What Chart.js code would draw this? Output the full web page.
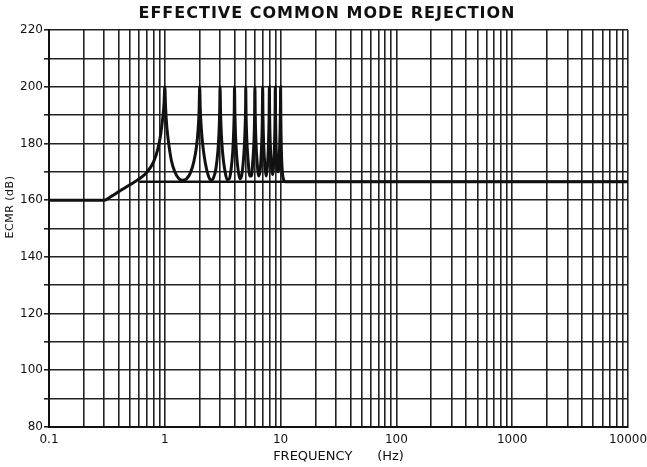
<!DOCTYPE html>
<html lang="en">
<head>
<meta charset="UTF-8">
<title>Effective Common Mode Rejection</title>
<script src="https://cdn.jsdelivr.net/npm/chart.js@4.4.1/dist/chart.umd.min.js"></script>
<style>
    body { margin: 0; background: #fff; }
</style>
</head>
<body>
<canvas id="ecmrChart" width="647" height="467"></canvas>
<script>
// response curve
var freqHz = [
    0.1, 0.2, 0.3, 0.35, 0.4, 0.5, 0.6, 0.7, 0.8, 0.87, 0.92, 0.96, 0.985,
    1.0, 1.015, 1.04, 1.08, 1.14, 1.22, 1.32, 1.42, 1.54, 1.66, 1.78, 1.88, 1.94, 1.98,
    2.0, 2.025, 2.07, 2.14, 2.24, 2.36, 2.5, 2.63, 2.76, 2.87, 2.94, 2.98,
    3.0, 3.03, 3.08, 3.17, 3.3, 3.45, 3.6, 3.74, 3.86, 3.94, 3.98,
    4.0, 4.03, 4.08, 4.17, 4.3, 4.45, 4.6, 4.75, 4.88, 4.95, 4.99,
    5.0, 5.03, 5.1, 5.22, 5.42, 5.6, 5.76, 5.89, 5.96,
    6.0, 6.04, 6.12, 6.28, 6.48, 6.68, 6.85, 6.95,
    7.0, 7.04, 7.14, 7.32, 7.5, 7.7, 7.86, 7.96,
    8.0, 8.04, 8.16, 8.36, 8.52, 8.72, 8.88, 8.96,
    9.0, 9.04, 9.16, 9.38, 9.56, 9.76, 9.9, 9.97,
    10.0, 10.04, 10.15, 10.35, 10.6, 11, 20, 100, 1000, 10000
];
var ecmrDb = [
    160, 160, 160, 161.5, 163, 165.4, 167.5, 169.8, 173.5, 178, 183, 189, 194,
    200, 193, 186, 180, 174, 170, 167.6, 167, 167.5, 169.5, 173.5, 179, 185, 192,
    200, 192, 185, 178.5, 173, 169, 167, 167.8, 171, 177, 184, 192,
    200, 191, 183, 176, 170.5, 167.3, 167.5, 171, 177, 185, 192,
    200, 191, 183, 176, 170.5, 167.5, 168.5, 173, 180, 187, 194,
    200, 191, 182, 175, 168.5, 168.5, 174, 181, 189,
    200, 190, 181, 173, 168.5, 171, 179, 188,
    200, 190, 180, 172, 168.5, 172, 180, 190,
    200, 190, 179, 171, 169, 173, 181, 190,
    200, 190, 178, 170.5, 170, 176, 185, 193,
    200, 190, 178, 170, 167.3, 166.5, 166.5, 166.5, 166.5, 166.5
];

// flat floor line
var floorHz = [0.6, 10000];
var floorDb = [166.5, 166.5];

// log grid and labels
var xGridTicks = [
    0.1, 0.2, 0.3, 0.4, 0.5, 0.6, 0.7, 0.8, 0.9,
    1, 2, 3, 4, 5, 6, 7, 8, 9,
    10, 20, 30, 40, 50, 60, 70, 80, 90,
    100, 200, 300, 400, 500, 600, 700, 800, 900,
    1000, 2000, 3000, 4000, 5000, 6000, 7000, 8000, 9000,
    10000
];
var xLabelValues = [0.1, 1, 10, 100, 1000, 10000];
var xLabelText = ['0.1', '1', '10', '100', '1000', '10000'];
var yLabelValues = [80, 100, 120, 140, 160, 180, 200, 220];

var chartTitle = 'EFFECTIVE COMMON MODE REJECTION';
var yTitle = 'ECMR (dB)';
var xTitle = 'FREQUENCY      (Hz)';

function toPoints(xs, ys) {
    return xs.map(function (x, i) { return { x: x, y: ys[i] }; });
}

var ink = '#111';
var gridInk = '#222';

// main title and rotated y title
var textPlugin = {
    id: 'textPlugin',
    afterDraw: function (chart) {
        var ctx = chart.ctx;
        ctx.save();
        ctx.fillStyle = ink;
        ctx.textAlign = 'center';
        ctx.textBaseline = 'middle';
        ctx.font = 'bold 16px "DejaVu Sans"';
        ctx.letterSpacing = '1px';
        ctx.fillText(chartTitle, 327, 14);
        ctx.font = '11px "DejaVu Sans"';
        ctx.letterSpacing = '0.5px';
        ctx.translate(10, 207);
        ctx.rotate(-Math.PI / 2);
        ctx.fillText(yTitle, 0, 0);
        ctx.restore();
    }
};

var ctx = document.getElementById('ecmrChart').getContext('2d');
var chart = new Chart(ctx, {
    type: 'scatter',
    data: {
        datasets: [{
            data: toPoints(floorHz, floorDb),
            showLine: true,
            borderColor: ink,
            borderWidth: 2.5,
            pointRadius: 0
        }, {
            data: toPoints(freqHz, ecmrDb),
            showLine: true,
            borderColor: ink,
            borderWidth: 3,
            pointRadius: 0,
            cubicInterpolationMode: 'monotone'
        }]
    },
    options: {
        responsive: false,
        animation: false,
        layout: { padding: { top: 30, right: 19, left: 0, bottom: 0 } },
        plugins: {
            legend: { display: false },
            tooltip: { enabled: false }
        },
        scales: {
            x: {
                type: 'logarithmic',
                min: 0.1,
                max: 10000,
                afterBuildTicks: function (s) {
                    s.ticks = xGridTicks.map(function (v) { return { value: v }; });
                },
                afterFit: function (s) {
                    s.height = 40;
                    s.paddingLeft = 0;
                    s.paddingRight = 0;
                },
                ticks: {
                    autoSkip: false,
                    maxRotation: 0,
                    padding: 6,
                    color: ink,
                    font: { family: 'DejaVu Sans', size: 12 },
                    callback: function (v) {
                        var i = xLabelValues.indexOf(v);
                        return i >= 0 ? xLabelText[i] : '';
                    }
                },
                grid: { color: gridInk, lineWidth: 1.6, drawTicks: false },
                border: { color: ink, width: 2 },
                title: {
                    display: true,
                    text: xTitle,
                    color: ink,
                    font: { family: 'DejaVu Sans', size: 13 },
                    padding: { top: 0, bottom: 3 }
                }
            },
            y: {
                min: 80,
                max: 220,
                afterFit: function (s) {
                    s.width = 49;
                },
                ticks: {
                    stepSize: 10,
                    autoSkip: false,
                    padding: 1,
                    color: ink,
                    font: { family: 'DejaVu Sans', size: 12 },
                    callback: function (v) {
                        return yLabelValues.indexOf(v) >= 0 ? String(v) : '';
                    }
                },
                grid: { color: gridInk, lineWidth: 1.6, tickLength: 5 },
                border: { color: ink, width: 2 }
            }
        }
    },
    plugins: [textPlugin]
});
</script>
</body>
</html>
